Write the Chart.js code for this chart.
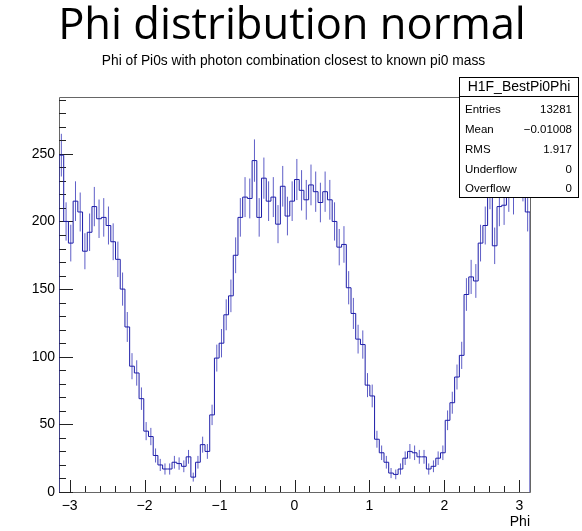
<!DOCTYPE html>
<html>
<head>
<meta charset="utf-8">
<script src="https://cdn.jsdelivr.net/npm/chart.js@4.4.0/dist/chart.umd.min.js"></script>
<style>
  html, body { margin: 0; padding: 0; background: #fff; }
  canvas { display: block; }
</style>
</head>
<body>
<canvas id="histo" width="582" height="531"></canvas>
<script>
// bin contents, 100 bins from -pi to pi
const binCounts = [
  249, 200, 184, 215, 207, 178, 192, 211, 202, 203,
  197, 185, 172, 150, 122,  93,  88,  69,  45,  41,
   27,  20,  17,  17,  22,  21,  19,  26,  11,  22,
   35,  30,  57,  99, 110, 131, 145, 175, 203, 218,
  217, 245, 203, 232, 215, 218, 198, 226, 204, 215,
  231, 223, 216, 227, 222, 214, 222, 216, 200, 181,
  183, 151, 132, 113, 109,  79,  71,  39,  29,  22,
   14,  13,  17,  25,  30,  29,  26,  26,  17,  19,
   25,  29,  53,  66,  85, 101, 146, 159, 156, 184,
  197, 224, 182, 211, 212, 222, 220, 235, 230, 207
];
const xMin = -Math.PI;
const xMax = Math.PI;
const yMax = 292;
const xTickValues = [-3, -2, -1, 0, 1, 2, 3];
const yTickValues = [0, 50, 100, 150, 200, 250];
const xMinorStep = 0.2;
const yMinorStep = 10;

const titleText = 'Phi distribution normal';
const subTitleText = 'Phi of Pi0s with photon combination closest to known pi0 mass';
const xAxisTitle = 'Phi';
const statsName = 'H1F_BestPi0Phi';
const statsLabels = ['Entries', 'Mean', 'RMS', 'Underflow', 'Overflow'];
const statsValues = ['13281', '\u22120.01008', '1.917', '0', '0'];

const histColor = '#1c1ca8';
const errColor = 'rgba(40, 40, 180, 0.75)';
const axisColor = '#666666';

const binWidth = (xMax - xMin) / binCounts.length;

// step outline: start at 0, one point per low edge, close back to 0
const stepPoints = [{ x: xMin, y: 0 }];
binCounts.forEach((c, i) => stepPoints.push({ x: xMin + i * binWidth, y: c }));
stepPoints.push({ x: xMax, y: binCounts[binCounts.length - 1] });
stepPoints.push({ x: xMax, y: 0 });

function fmtNum(v) {
  return v < 0 ? '\u2212' + Math.abs(v) : String(v);
}

const rootFrame = {
  id: 'rootFrame',
  beforeDatasetsDraw(chart) {
    const { ctx, chartArea: a, scales: { x, y } } = chart;
    ctx.save();
    // error bars sqrt(N)
    ctx.strokeStyle = errColor;
    ctx.lineWidth = 1;
    ctx.beginPath();
    binCounts.forEach((c, i) => {
      const px = x.getPixelForValue(xMin + (i + 0.5) * binWidth);
      const e = Math.sqrt(c);
      ctx.moveTo(px, y.getPixelForValue(c + e));
      ctx.lineTo(px, y.getPixelForValue(Math.max(c - e, 0)));
    });
    ctx.stroke();

    // frame
    ctx.strokeStyle = axisColor;
    ctx.beginPath();
    ctx.moveTo(a.left + 0.5, a.bottom + 0.5);
    ctx.lineTo(a.left + 0.5, a.top + 0.5);
    ctx.lineTo(a.right + 0.5, a.top + 0.5);
    ctx.lineTo(a.right + 0.5, a.bottom + 0.5);
    ctx.closePath();
    ctx.stroke();

    // ticks pointing into the pad
    ctx.strokeStyle = '#222';
    ctx.beginPath();
    for (let v = Math.ceil(xMin / xMinorStep) * xMinorStep; v <= xMax; v += xMinorStep) {
      const px = Math.round(x.getPixelForValue(v)) + 0.5;
      const major = Math.abs(v - Math.round(v)) < 1e-6;
      ctx.moveTo(px, a.bottom);
      ctx.lineTo(px, a.bottom - (major ? 12 : 6));
    }
    for (let v = 0; v <= yMax; v += yMinorStep) {
      const py = Math.round(y.getPixelForValue(v)) + 0.5;
      const major = v % 50 === 0;
      ctx.moveTo(a.left, py);
      ctx.lineTo(a.left + (major ? 14 : 7), py);
    }
    ctx.stroke();
    ctx.restore();
  },
  afterDraw(chart) {
    const { ctx, chartArea: a } = chart;
    ctx.save();
    ctx.fillStyle = '#000';

    ctx.font = '43.5px "Open Sans"';
    ctx.textAlign = 'center';
    ctx.textBaseline = 'alphabetic';
    ctx.fillText(titleText, 292, 39);

    ctx.font = '13.8px "Liberation Sans"';
    ctx.fillText(subTitleText, 293.5, 65);

    ctx.font = '14px "Liberation Sans"';
    ctx.textAlign = 'right';
    ctx.fillText(xAxisTitle, a.right, 526);

    // stats box
    const bx = 459.5, by = 77.5, bw = 119, bh = 120;
    ctx.fillStyle = '#fff';
    ctx.fillRect(bx, by, bw, bh);
    ctx.strokeStyle = '#000';
    ctx.lineWidth = 1;
    ctx.strokeRect(bx, by, bw, bh);
    ctx.beginPath();
    ctx.moveTo(bx, 96.5);
    ctx.lineTo(bx + bw, 96.5);
    ctx.stroke();

    ctx.fillStyle = '#000';
    ctx.font = '14px "Liberation Sans"';
    ctx.textAlign = 'center';
    ctx.textBaseline = 'middle';
    ctx.fillText(statsName, bx + bw / 2, 87);

    ctx.font = '11.5px "Liberation Sans"';
    statsLabels.forEach((lab, i) => {
      const ty = 110 + i * 19.8;
      ctx.textAlign = 'left';
      ctx.fillText(lab, 465, ty);
      ctx.textAlign = 'right';
      ctx.fillText(statsValues[i], 572, ty);
    });
    ctx.restore();
  }
};

new Chart(document.getElementById('histo'), {
  type: 'line',
  data: {
    datasets: [{
      data: stepPoints,
      stepped: true,
      borderColor: histColor,
      borderWidth: 1,
      pointRadius: 0,
      fill: false
    }]
  },
  options: {
    responsive: false,
    animation: false,
    devicePixelRatio: 1,
    layout: { padding: { top: 97, right: 52, left: 0, bottom: 0 } },
    plugins: { legend: { display: false }, tooltip: { enabled: false } },
    scales: {
      x: {
        type: 'linear',
        min: xMin,
        max: xMax,
        afterBuildTicks: s => { s.ticks = xTickValues.map(v => ({ value: v })); },
        afterFit: s => { s.height = 39; },
        grid: { display: false, drawTicks: false },
        border: { display: false },
        ticks: {
          autoSkip: false, maxRotation: 0, padding: 6, color: '#000',
          font: { family: 'Liberation Sans', size: 14 },
          callback: v => fmtNum(v)
        }
      },
      y: {
        min: 0,
        max: yMax,
        afterBuildTicks: s => { s.ticks = yTickValues.map(v => ({ value: v })); },
        afterFit: s => { s.width = 59; },
        grid: { display: false, drawTicks: false },
        border: { display: false },
        ticks: {
          padding: 4, color: '#000',
          font: { family: 'Liberation Sans', size: 14 },
          callback: v => fmtNum(v)
        }
      }
    }
  },
  plugins: [rootFrame]
});
</script>
</body>
</html>
